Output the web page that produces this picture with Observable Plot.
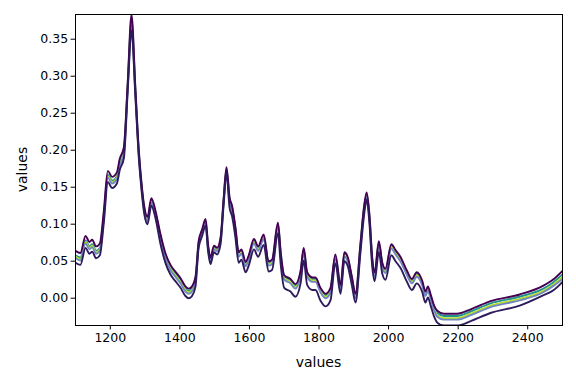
<!DOCTYPE html>
<html>
<head>
<meta charset="utf-8">
<script src="https://cdn.jsdelivr.net/npm/d3@7"></script>
<script src="https://cdn.jsdelivr.net/npm/@observablehq/plot@0.6"></script>
<style>
  html, body { margin: 0; padding: 0; background: white; }
</style>
</head>
<body>
<div id="chart"></div>
<script>
const wavelengths = [1100,1114,1129,1140,1148,1159,1170,1181,1193,1205,1219,1227,1239,1250,1261,1272,1282,1290,1298,1307,1318,1330,1344,1359,1373,1387,1402,1416,1426,1435,1445,1454,1464,1474,1481,1488,1498,1507,1517,1526,1534,1543,1550,1560,1569,1577,1589,1598,1613,1625,1641,1655,1665,1682,1690,1700,1718,1732,1747,1756,1766,1781,1790,1804,1819,1833,1847,1862,1873,1883,1895,1905,1919,1929,1937,1945,1953,1960,1972,1982,1991,2008,2020,2034,2053,2067,2081,2097,2106,2113,2121,2131,2140,2159,2197,2236,2293,2377,2445,2475,2500];

const seriesTop = [.064,.061,.084,.076,.079,.070,.074,.116,.172,.164,.170,.188,.204,.291,.383,.286,.200,.155,.123,.110,.135,.118,.087,.060,.045,.036,.027,.016,.013,.016,.029,.077,.093,.107,.073,.055,.071,.068,.082,.136,.177,.136,.125,.095,.062,.066,.049,.058,.080,.070,.086,.050,.052,.102,.062,.031,.026,.019,.037,.068,.035,.028,.028,.014,.006,.014,.059,.018,.062,.055,.028,.006,.073,.122,.143,.113,.055,.035,.077,.048,.040,.073,.065,.056,.037,.026,.035,.023,.009,.016,.005,-.010,-.017,-.021,-.021,-.015,-.004,.005,.017,.026,.037];

const seriesTeal = [.058,.055,.078,.070,.073,.064,.068,.110,.167,.159,.165,.183,.199,.287,.376,.282,.197,.152,.120,.107,.132,.115,.084,.057,.042,.033,.024,.013,.010,.013,.026,.074,.090,.104,.070,.052,.068,.065,.079,.133,.174,.134,.123,.093,.060,.064,.047,.056,.078,.068,.084,.048,.050,.100,.060,.029,.024,.017,.035,.066,.033,.026,.026,.012,.004,.012,.057,.016,.060,.053,.026,.004,.071,.120,.141,.111,.053,.033,.075,.046,.038,.071,.063,.054,.035,.024,.033,.021,.007,.014,.003,-.012,-.020,-.024,-.024,-.018,-.007,.002,.013,.022,.032];

const seriesYellow = [.056,.053,.076,.068,.071,.062,.066,.108,.165,.157,.163,.181,.197,.285,.372,.280,.195,.150,.118,.105,.130,.113,.082,.055,.040,.031,.022,.011,.008,.011,.024,.073,.089,.103,.069,.051,.067,.064,.078,.132,.173,.132,.121,.091,.058,.062,.045,.054,.076,.066,.082,.046,.048,.098,.058,.027,.022,.015,.033,.064,.031,.024,.024,.010,.002,.010,.055,.014,.058,.051,.024,.002,.069,.118,.139,.109,.051,.031,.073,.044,.036,.069,.061,.052,.033,.022,.031,.019,.005,.012,.001,-.014,-.023,-.027,-.027,-.021,-.010,-.001,.010,.019,.029];

const seriesBlue = [.054,.051,.074,.066,.069,.060,.064,.106,.163,.155,.161,.179,.195,.283,.369,.278,.194,.149,.117,.104,.129,.112,.080,.053,.038,.029,.020,.009,.006,.009,.022,.072,.088,.102,.068,.050,.066,.063,.077,.131,.172,.130,.119,.089,.056,.060,.043,.052,.074,.064,.080,.044,.046,.096,.056,.025,.020,.013,.031,.062,.029,.022,.022,.008,.000,.008,.053,.012,.056,.049,.022,.000,.067,.116,.137,.107,.049,.029,.071,.042,.034,.067,.059,.050,.031,.020,.029,.017,.003,.010,-.001,-.016,-.025,-.029,-.029,-.023,-.012,-.003,.008,.017,.026];

const seriesBottom = [.048,.045,.068,.060,.063,.054,.058,.100,.157,.149,.155,.173,.189,.279,.362,.274,.190,.145,.113,.100,.125,.108,.074,.047,.032,.023,.014,.003,.000,.003,.016,.068,.084,.098,.064,.046,.062,.059,.073,.127,.169,.122,.111,.081,.048,.052,.035,.044,.066,.056,.072,.036,.038,.088,.045,.014,.009,.002,.020,.051,.018,.011,.011,-.003,-.011,-.003,.047,.006,.050,.043,.016,-.006,.061,.110,.133,.101,.043,.023,.062,.033,.025,.058,.050,.041,.022,.011,.020,.008,-.006,.001,-.010,-.025,-.033,-.037,-.037,-.031,-.020,-.010,.004,.011,.022];

const seriesNames = ["teal", "yellow", "blue", "top", "bottom"];
const seriesColors = ["#21918c", "#b5de2b", "#6f86c0", "#440154", "#2d1b5c"];

const xDomain = [1100, 2500];
const yDomain = [-0.0369, 0.3834];
const xTicks = [1200, 1400, 1600, 1800, 2000, 2200, 2400];
const yTicks = [0.00, 0.05, 0.10, 0.15, 0.20, 0.25, 0.30, 0.35];
const xLabel = "values";
const yLabel = "values";

const seriesValues = {top: seriesTop, teal: seriesTeal, yellow: seriesYellow, blue: seriesBlue, bottom: seriesBottom};
const rows = [];
for (const name of seriesNames) {
  seriesValues[name].forEach((v, i) => rows.push({x: wavelengths[i], y: v, s: name}));
}

const W = 576, H = 384;
const mL = 75, mR = 14, mT = 14, mB = 59;

const chart = Plot.plot({
  width: W,
  height: H,
  marginLeft: mL,
  marginRight: mR,
  marginTop: mT,
  marginBottom: mB,
  style: {fontFamily: "DejaVu Sans", fontSize: "12.5px", color: "black", background: "white"},
  x: {domain: xDomain},
  y: {domain: yDomain},
  color: {domain: seriesNames, range: seriesColors},
  marks: [
    Plot.line(rows, {x: "x", y: "y", z: "s", stroke: "s", strokeWidth: 1.9, curve: "monotone-x", clip: true}),
    Plot.frame({stroke: "black", strokeWidth: 1}),
    Plot.axisX({ticks: xTicks, tickSize: 4.4, tickPadding: 3, tickFormat: d => String(d), label: null, fontSize: 12.5, stroke: "black"}),
    Plot.axisY({ticks: yTicks, tickSize: 4.4, tickPadding: 3, tickFormat: d3.format(".2f"), label: null, fontSize: 12.5, stroke: "black"})
  ]
});

const svg = d3.select(chart);
svg.append("text")
  .attr("x", mL + (W - mL - mR) / 2)
  .attr("y", 367)
  .attr("text-anchor", "middle")
  .attr("font-family", "DejaVu Sans")
  .attr("font-size", "14px")
  .attr("fill", "black")
  .text(xLabel);
svg.append("text")
  .attr("transform", `translate(27, ${mT + (H - mT - mB) / 2}) rotate(-90)`)
  .attr("text-anchor", "middle")
  .attr("font-family", "DejaVu Sans")
  .attr("font-size", "14px")
  .attr("fill", "black")
  .text(yLabel);

document.getElementById("chart").appendChild(chart);
</script>
</body>
</html>
